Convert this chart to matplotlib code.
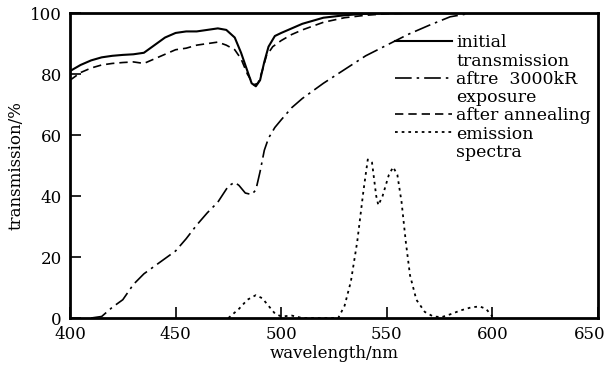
import matplotlib
matplotlib.use('Agg')
import matplotlib.pyplot as plt
import matplotlib.transforms as mtransforms
from matplotlib.lines import Line2D
import numpy as np

plt.rcParams['font.family'] = 'DejaVu Serif'

# ── data ──
wl_init = [400, 405, 410, 415, 420, 425, 430, 435, 440, 445, 450, 455, 460, 465, 470, 474,
           478, 481, 484, 486, 488, 490, 492, 494, 497, 500, 505, 510, 515, 520, 530, 540,
           550, 650]
tr_init = [81, 83, 84.5, 85.5, 86, 86.3, 86.5, 87, 89.5, 92, 93.5, 94, 94, 94.5, 95, 94.5,
           92, 87, 81, 77, 76, 78, 84, 89, 92.5, 93.5, 95, 96.5, 97.5, 98.5, 99.3, 99.8,
           100, 100]

wl_anneal = [400, 405, 410, 415, 420, 425, 430, 435, 440, 445, 450, 455, 460, 465, 470, 474,
             478, 481, 484, 487, 489, 491, 493, 496, 500, 505, 510, 520, 530, 540, 550, 560,
             650]
tr_anneal = [78, 80.5, 82, 83, 83.5, 83.8, 84, 83.5, 85, 86.5, 88, 88.5, 89.5, 90, 90.5, 89.5,
             88, 85, 80, 76.5, 77, 81, 86, 89, 91, 93, 94.5, 97, 98.5, 99.3, 99.8, 100,
             100]

wl_expo = [410, 415, 420, 425, 430, 435, 440, 445, 450, 455, 460, 465, 470, 475, 478, 480,
           483, 486, 488, 490, 492, 494, 497, 500, 505, 510, 520, 530, 540, 550, 560, 570,
           580, 590, 650]
tr_expo = [0, 0.5, 3.5, 6, 11, 14.5, 17, 19.5, 22, 26, 30.5, 34.5, 38, 43.3, 44.5, 43.5,
           41, 40.5, 42, 48, 55, 59, 62.5, 65, 69, 72, 77, 81.5, 86, 89.5, 93, 96,
           98.8, 100, 100]

wl_emis = [475, 480, 484, 488, 491, 494, 497, 500, 505, 510, 527, 530, 533, 536, 539, 541,
           543, 545, 546, 548, 551, 553, 555, 557, 559, 561, 564, 568, 572, 576, 580, 585,
           590, 594, 597, 600]
em_emis = [0, 3, 6, 7.5, 6.5, 4, 1.5, 0.5, 0.8, 0, 0, 4, 12, 25, 42, 52,
           51, 40, 37, 40, 47, 49.5, 47, 38, 25, 14, 6, 2, 0.5, 0.3, 1.2, 2.5,
           3.5, 3.8, 3, 0.5]

legend_labels = ['initial', 'transmission', 'aftre  3000kR', 'exposure',
                 'after annealing', 'emission', 'spectra']

SOLID = '-'
DASHDOT = (0, (10, 3, 1.5, 3))
DASHED = (0, (5, 3))
DOTTED = (0, (1.5, 2.2))

fig = plt.figure(figsize=(6.05, 3.7), dpi=100)
ax = fig.add_axes([0.1157, 0.1405, 0.8727, 0.824])

ax.plot(wl_init, tr_init, color='black', lw=1.5, ls=SOLID)
ax.plot(wl_expo, tr_expo, color='black', lw=1.2, ls=DASHDOT)
ax.plot(wl_anneal, tr_anneal, color='black', lw=1.2, ls=DASHED)
ax.plot(wl_emis, em_emis, color='black', lw=1.3, ls=DOTTED)

ax.set_xlim(400, 650)
ax.set_ylim(0, 100)
ax.set_xticks(np.arange(400, 651, 50))
ax.set_yticks(np.arange(0, 101, 20))
ax.tick_params(direction='in', length=8, width=1.2, labelsize=12, pad=6)
for s in ax.spines.values():
    s.set_linewidth(2)

# pull the last x label in so it stays on the canvas
last = ax.get_xticklabels()[-1]
last.set_transform(last.get_transform() +
                   mtransforms.ScaledTranslation(-6 / 72, 0, fig.dpi_scale_trans))

ax.set_xlabel('wavelength/nm', fontsize=12, labelpad=1)
ax.set_ylabel('transmission/%', fontsize=12, labelpad=4)

# legend: second lines of labels get empty handles
blank = Line2D([], [], color='none')
handles = [Line2D([], [], color='black', lw=1.5, ls=SOLID), blank,
           Line2D([], [], color='black', lw=1.2, ls=DASHDOT), blank,
           Line2D([], [], color='black', lw=1.2, ls=DASHED),
           Line2D([], [], color='black', lw=1.3, ls=DOTTED), blank]
ax.legend(handles, legend_labels, loc='upper left', bbox_to_anchor=(0.615, 0.93),
          frameon=False, fontsize=12.5, handlelength=3.3, handletextpad=0.25,
          labelspacing=0.07, borderpad=0, borderaxespad=0)

plt.savefig('out.png', dpi=100)
